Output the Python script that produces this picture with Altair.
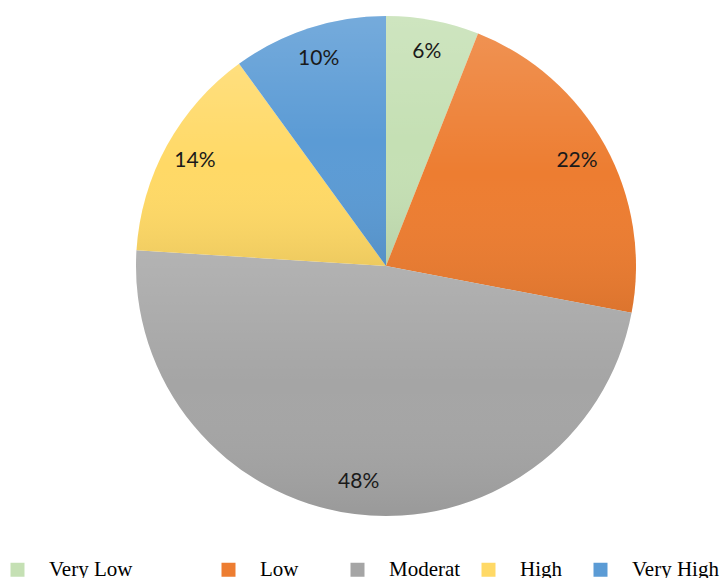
import altair as alt
import pandas as pd

# Share of respondents per risk level
categories = ["Very Low", "Low", "Moderat", "High", "Very High"]
shares = [6, 22, 48, 14, 10]
palette = ["#C5E0B4", "#ED7D31", "#A5A5A5", "#FFD966", "#5B9BD5"]

df = pd.DataFrame({
    "level": categories,
    "share": shares,
    "rank": list(range(len(categories))),
})

# trailing spaces (closed by a zero-width space so they are not trimmed)
# widen some legend entries so the row spreads out
legend_pad = {"Very Low": 13, "Low": 6, "High": 2}
label_expr = "".join(
    f"datum.label === '{name}' ? datum.label + '{chr(160) * n}{chr(0x200B)}' : "
    for name, n in legend_pad.items()
) + "datum.label"

base = alt.Chart(df).transform_calculate(
    pct="datum.share + '%'"
).encode(
    theta=alt.Theta("share:Q", stack=True),
    order=alt.Order("rank:Q", sort="ascending"),
    detail="level:N",
    x=alt.value(386),
    y=alt.value(266),
)

slices = base.mark_arc(outerRadius=250).encode(
    color=alt.Color(
        "level:N",
        scale=alt.Scale(domain=categories, range=palette),
        legend=alt.Legend(
            title=None,
            orient="none",
            legendX=7,
            legendY=559,
            direction="horizontal",
            symbolType="square",
            symbolSize=196,
            symbolStrokeWidth=0,
            symbolOpacity=1,
            labelFont="Liberation Serif",
            labelFontSize=21,
            labelColor="#000000",
            labelOffset=21,
            labelLimit=400,
            columnPadding=17,
            labelExpr=label_expr,
        ),
    )
)

# light-to-dark sheen laid over every slice
sheen = base.mark_arc(
    outerRadius=250,
    fill=alt.Gradient(
        gradient="linear",
        x1=0, x2=0, y1=0, y2=1,
        stops=[
            alt.GradientStop(color="rgba(255,255,255,0.16)", offset=0),
            alt.GradientStop(color="rgba(255,255,255,0.0)", offset=0.5),
            alt.GradientStop(color="rgba(0,0,0,0.07)", offset=1),
        ],
    ),
)

labels = base.mark_text(
    radius=218,
    font="Lato",
    fontSize=21,
    color="#1a1a1a",
).encode(text="pct:N")

chart = alt.layer(slices, sheen, labels).properties(
    width=721,
    height=578,
    autosize=alt.AutoSizeParams(type="none"),
    padding=0,
    background="white",
).configure_view(stroke=None)

chart.save("out.html", embed_options={"renderer": "svg", "actions": False})
